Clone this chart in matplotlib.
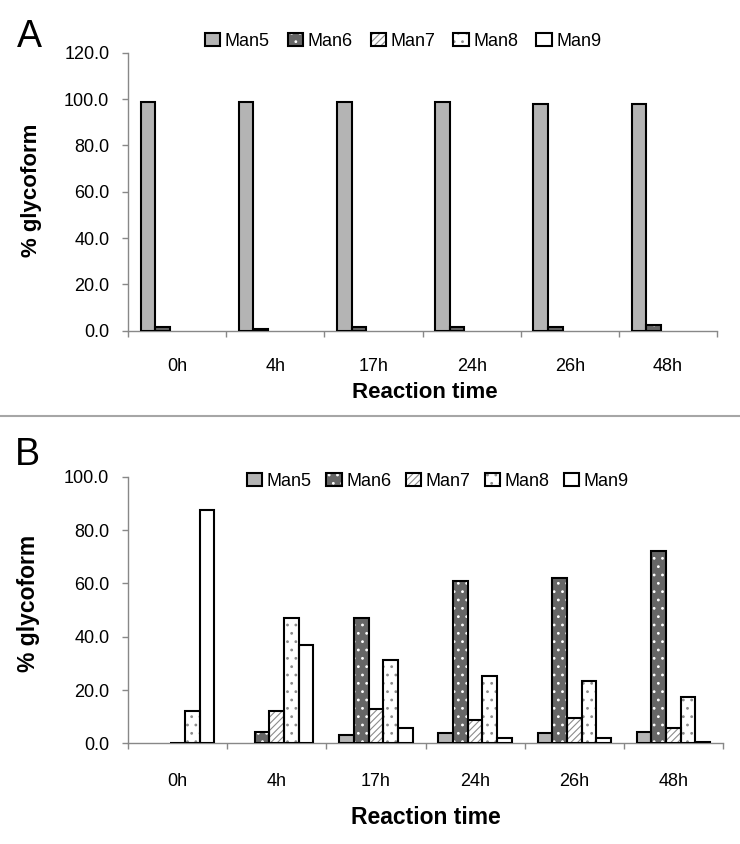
import matplotlib
matplotlib.use('Agg')
import matplotlib.pyplot as plt
import numpy as np
from matplotlib.patches import Patch
from matplotlib.lines import Line2D

nan = np.nan

times = ['0h', '4h', '17h', '24h', '26h', '48h']
glycans = ['Man5', 'Man6', 'Man7', 'Man8', 'Man9']

# panel A values (% glycoform)
a_man5 = [98.6, 98.6, 98.6, 98.6, 98.0, 97.8]
a_man6 = [1.4, 0.8, 1.4, 1.4, 1.4, 2.3]
a_man7 = [nan, nan, nan, nan, nan, nan]
a_man8 = [nan, nan, nan, nan, nan, nan]
a_man9 = [nan, nan, nan, nan, nan, nan]

# panel B values (% glycoform)
b_man5 = [nan, nan, 3.2, 3.8, 3.8, 4.4]
b_man6 = [nan, 4.4, 47.2, 60.9, 61.9, 72.3]
b_man7 = [0.0, 12.2, 12.8, 8.8, 9.4, 5.7]
b_man8 = [12.3, 47.2, 31.3, 25.3, 23.4, 17.3]
b_man9 = [87.5, 36.8, 5.7, 1.9, 1.9, 0.7]

# fill colour, hatch, hatch colour per glycan
styles = [('#b4b4b4', '', 'none'),
          ('#666666', '..', 'white'),
          ('white', '/////', '#8c8c8c'),
          ('white', '..', '#8c8c8c'),
          ('white', '', 'none')]

plt.rcParams['font.family'] = ['Liberation Sans', 'DejaVu Sans']
plt.rcParams['hatch.linewidth'] = 0.8

fig = plt.figure(figsize=(7.4, 8.44), dpi=100)
axA = fig.add_axes([0.173, 0.6082, 0.796, 0.3294])
axB = fig.add_axes([0.173, 0.1191, 0.804, 0.3161])

w = 0.148
off = (1 - 5 * w) / 2
x = np.arange(len(times))


def draw(ax, series, ymax, leg_xy, colsp, xpad):
    handles = []
    for j, vals in enumerate(series):
        fc, hatch, hc = styles[j]
        vals = np.array(vals, dtype=float)
        keep = ~np.isnan(vals)
        pos = x[keep] + off + (j + 0.5) * w
        ax.bar(pos, vals[keep], w, color=fc, hatch=hatch, edgecolor=hc, linewidth=0, zorder=2)
        ax.bar(pos, vals[keep], w, fill=False, edgecolor='black', linewidth=1.5, zorder=3)
        handles.append((Patch(facecolor=fc, hatch=hatch, edgecolor=hc, linewidth=0),
                        Patch(fill=False, edgecolor='black', linewidth=1.5)))
    ax.set_xlim(0, 6)
    ax.set_ylim(0, ymax)
    ax.set_yticks(np.arange(0, ymax + 1, 20))
    ax.set_yticklabels(['%.1f' % v for v in np.arange(0, ymax + 1, 20)])
    ax.set_xticks(x + 0.5)
    ax.set_xticklabels(times)
    ax.set_xticks(np.arange(0, 7), minor=True)
    ax.tick_params(axis='x', which='major', length=0, pad=xpad, labelsize=13)
    ax.tick_params(axis='x', which='minor', length=4.5, color='#888888', width=1)
    ax.tick_params(axis='y', length=4.5, color='#888888', width=1, pad=9, labelsize=13)
    for s in ['top', 'right']:
        ax.spines[s].set_visible(False)
    for s in ['left', 'bottom']:
        ax.spines[s].set_color('#888888')
        ax.spines[s].set_linewidth(1)
    fig.legend(handles, glycans, loc='center', bbox_to_anchor=leg_xy, ncol=5,
               frameon=False, fontsize=13, handlelength=0.85, handleheight=0.75,
               handletextpad=0.25, columnspacing=colsp, borderpad=0)


draw(axA, [a_man5, a_man6, a_man7, a_man8, a_man9], 120, (403 / 740, 1 - 41.5 / 844), 1.0, 20)
draw(axB, [b_man5, b_man6, b_man7, b_man8, b_man9], 100, (438 / 740, 1 - 481 / 844), 0.8, 21)

fig.text(17 / 740, 1 - 47 / 844, 'A', fontsize=27)
fig.text(15 / 740, 1 - 465 / 844, 'B', fontsize=27)
fig.text(31 / 740, 1 - 190 / 844, '% glycoform', rotation=90, fontsize=16,
         fontweight='bold', ha='center', va='center')
fig.text(29 / 740, 1 - 603 / 844, '% glycoform', rotation=90, fontsize=16.5,
         fontweight='bold', ha='center', va='center')
fig.text(425 / 740, 1 - 392 / 844, 'Reaction time', fontsize=16,
         fontweight='bold', ha='center', va='center')
fig.text(426 / 740, 1 - 817 / 844, 'Reaction time', fontsize=16.5,
         fontweight='bold', ha='center', va='center')

fig.add_artist(Line2D([0, 1], [1 - 415.7 / 844, 1 - 415.7 / 844], color='#a6a6a6', linewidth=1.5))

fig.savefig('out.png', dpi=100)
